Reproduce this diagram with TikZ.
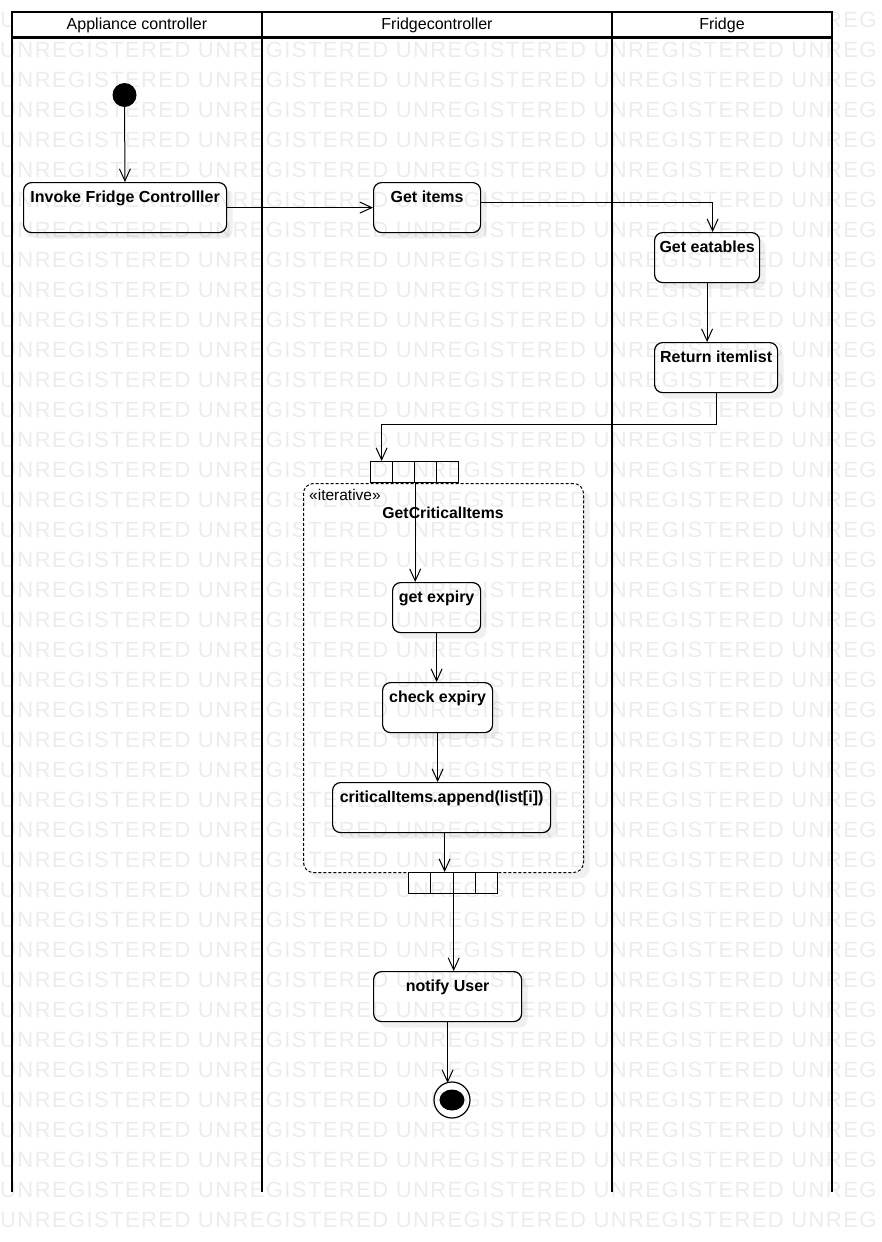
\documentclass[tikz,border=0pt]{standalone}
\usepackage{fontspec}
\setmainfont{Liberation Sans}
\newfontfamily\wmfont[LetterSpace=6.4]{Liberation Sans}
\usepackage{xcolor}
\usepackage{tikz}
\usetikzlibrary{arrows.meta}
\usetikzlibrary{shapes,arrows,shadows}
\tikzstyle{arrow} = [line width=1pt,-{Straight Barb[length=12pt,width=11pt]}]
\tikzstyle{lane} = [line width=2.5pt]
\tikzstyle{lanehead} = [font=\fontsize{16}{19}\selectfont]
\tikzstyle{action} = [draw, line width=1.2pt, rounded corners=8pt, fill=white, anchor=north west,
    inner xsep=0pt, inner ysep=8pt, text height=12pt, text depth=22pt,
    font=\fontsize{16}{19}\selectfont\bfseries,
    drop shadow={shadow xshift=6pt, shadow yshift=-6pt, fill=black!6, opacity=1}]
\tikzstyle{pincell} = [draw, line width=1.2pt, fill=white, anchor=north west, minimum height=21pt, inner sep=0pt]
\tikzstyle{region} = [draw, line width=1pt, dash pattern=on 3pt off 2pt, rounded corners=10pt, fill=white,
    anchor=north west, inner sep=0pt,
    drop shadow={shadow xshift=6pt, shadow yshift=-6pt, fill=black!6, opacity=1}]
\tikzstyle{watermark} = [anchor=base west, inner sep=0pt, text=black, text opacity=0.075,
    font=\wmfont\fontsize{22}{22}\selectfont]

\begin{document}
\begin{tikzpicture}[x=1pt, y=-1pt]
    \useasboundingbox (0,0) rectangle (882,1242);

    \foreach \x in {12,262,612,832}
        \draw[lane] (\x,12) -- (\x,1192);

    \node[region, minimum width=280pt, minimum height=389pt] (iterregion) at (303,483) {};
    \node[anchor=base west, inner sep=0pt, font=\fontsize{15.5}{18}\selectfont] (itertag) at (309,500) {«iterative»};
    \node[font=\fontsize{15.8}{18}\selectfont\bfseries] (itername) at (443,513) {GetCriticalItems};

    \node[circle, fill=black, minimum size=24pt, inner sep=0pt] (init) at (124.5,95) {};
    \node[action, minimum width=203pt] (invoke) at (23,182) {Invoke Fridge Controlller};
    \node[action, minimum width=107pt] (getitems) at (373,182) {Get items};
    \node[action, minimum width=105pt] (eatables) at (654,232) {Get eatables};
    \node[action, minimum width=123pt] (retlist) at (654,342) {Return itemlist};
    \node[action, minimum width=88pt] (getexp) at (392,582) {get expiry};
    \node[action, minimum width=110pt] (checkexp) at (382,682) {check expiry};
    \node[action, minimum width=218pt] (append) at (332,782) {criticalItems.append(list[i])};
    \node[action, minimum width=148pt] (notify) at (373,971) {notify User};
    \node[circle, draw, line width=1.2pt, minimum size=36pt, inner sep=0pt, fill=white] (final) at (452,1100) {};
    \node[ellipse, fill=black, minimum width=25pt, minimum height=21pt, inner sep=0pt] (finaldot) at (final.center) {};

    \foreach \i in {1,...,4}
        \node[pincell, minimum width=22pt] (pinin\i) at ({370+22*(\i-1)},461) {};
    \foreach \i in {1,...,4}
        \node[pincell, minimum width=22.25pt] (pinout\i) at ({408+22.25*(\i-1)},872) {};

    \draw[arrow] (init) -- (invoke);
    \draw[arrow] (invoke) -- (getitems);
    \draw[arrow] ([yshift=5pt]getitems.east) -| ([xshift=5.5pt]eatables.north);
    \draw[arrow] (eatables.south) -- (eatables.south |- retlist.north);
    \draw[arrow] (retlist.south) -- ++(0,31) -| (pinin1.north);
    \draw[arrow] (pinin2.south east) -- (pinin2.south east |- getexp.north);
    \draw[arrow] (getexp.south) -- (getexp.south |- checkexp.north);
    \draw[arrow] (checkexp.south) -- (checkexp.south |- append.north);
    \draw[arrow] ([xshift=3pt]append.south) -- ([xshift=3pt]append.south |- pinout2.north);
    \draw[arrow] (pinout2.south east) -- (pinout2.south east |- notify.north);
    \draw[arrow] (notify.south) -- ([yshift=-1.5pt]notify.south |- final.north);

    \foreach \r in {0,...,40}
        \node[watermark] (wm\r) at (0,{27.6+30*\r}) {UNREGISTERED UNREGISTERED UNREGISTERED UNREGISTERED UNREG};

    % header band sits over the watermark
    \fill[white] (12,12) rectangle (832,37.5);
    \draw[lane] (12,12) rectangle (832,37.5);
    \draw[lane] (262,12) -- (262,37.5);
    \draw[lane] (612,12) -- (612,37.5);
    \node[lanehead] (laneappliance) at (137,25) {Appliance controller};
    \node[lanehead] (lanecontroller) at (437,25) {Fridgecontroller};
    \node[lanehead] (lanefridge) at (722,25) {Fridge};
\end{tikzpicture}
\end{document}
